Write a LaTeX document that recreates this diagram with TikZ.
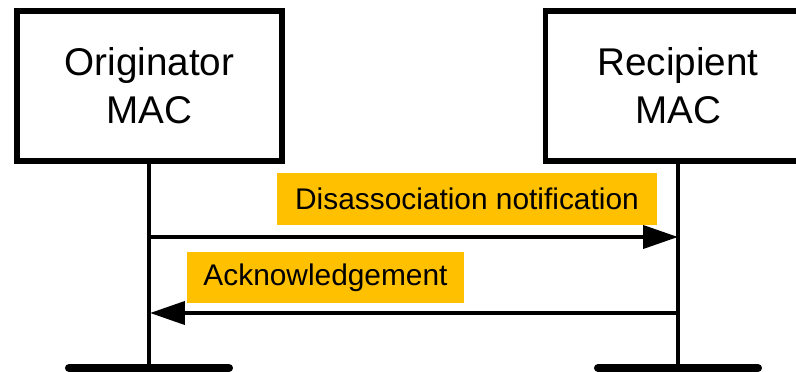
\documentclass[tikz,border=0pt]{standalone}
\usepackage{fontspec}
\setmainfont{Liberation Sans}
\usetikzlibrary{arrows.meta,positioning}

\tikzset{
  macbox/.style={draw, line width=2.9pt, minimum width=5.3cm, minimum height=3cm,
    align=center, font=\fontsize{22}{27.2}\selectfont},
  lifeline/.style={line width=2.3pt},
  endbar/.style={line width=4.6pt, line cap=round},
  msg/.style={line width=2.3pt, -{Triangle[length=0.7cm, width=0.46cm]}},
  msglabel/.style={fill=msgorange, inner sep=0pt, minimum height=1.03cm,
    font=\fontsize{17}{20}\selectfont}
}
\definecolor{msgorange}{HTML}{FFC000}

\begin{document}
\begin{tikzpicture}[x=0.02cm, y=-0.02cm]
  \useasboundingbox (0,0) rectangle (796,372);
  \clip (0,0) rectangle (796,372);

  % the two MACs
  \node[macbox] (orig) at (149.5,86) {Originator\\MAC};
  \node[macbox] (recip) at (678,86) {Recipient\\MAC};

  % ends of the lifelines
  \coordinate (orig-end) at (149,368);
  \coordinate (recip-end) at (678,368);
  \draw[lifeline] (orig.south -| orig-end) -- (orig-end);
  \draw[lifeline] (recip.south -| recip-end) -- (recip-end);
  \draw[endbar] ([xshift=-1.6cm]orig-end) -- ([xshift=1.6cm]orig-end);
  \draw[endbar] ([xshift=-1.6cm]recip-end) -- ([xshift=1.6cm]recip-end);

  % messages
  \coordinate (m1-from) at (149,237);
  \coordinate (m1-to) at (678,237);
  \coordinate (m2-from) at (678,313);
  \coordinate (m2-to) at (150,313);
  \draw[msg] (m1-from) -- (m1-to);
  \draw[msg] (m2-from) -- (m2-to);

  \node[msglabel, minimum width=7.6cm] (disassoc) at (467,199) {Disassociation notification};
  \node[msglabel, minimum width=5.54cm] (ack) at (325.5,277.5) {Acknowledgement};
\end{tikzpicture}
\end{document}
